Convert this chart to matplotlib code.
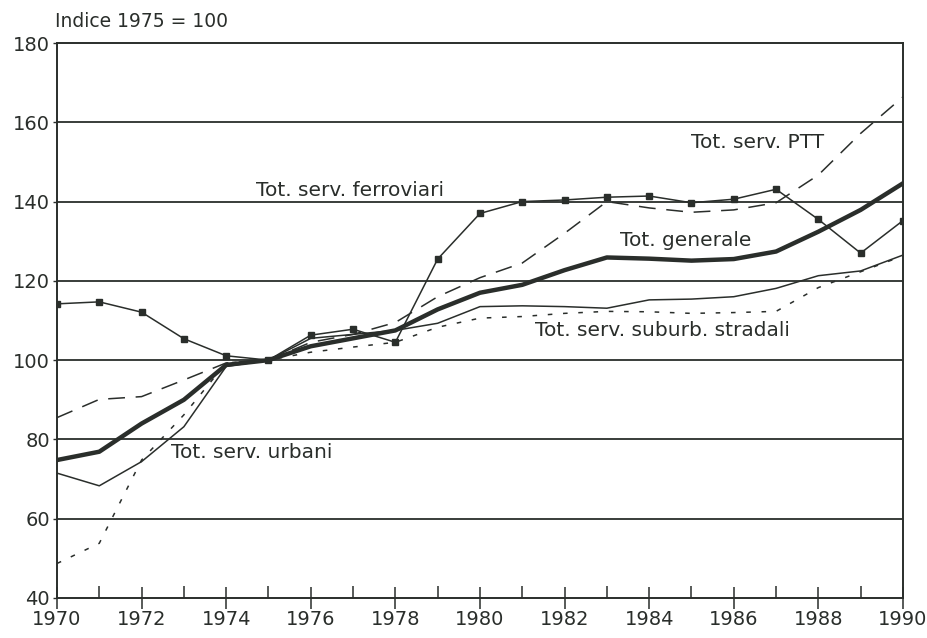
import numpy as np
import matplotlib.pyplot as plt
from matplotlib.ticker import MultipleLocator

years = list(range(1970, 1991))

# Indice 1975 = 100
generale = [74.8, 76.9, 84.0, 90.0, 98.8, 100.0, 103.5, 105.5, 107.5, 112.8, 117.0,
            119.0, 122.7, 125.9, 125.6, 125.1, 125.5, 127.4, 132.4, 137.9, 144.6]
ferroviari = [114.2, 114.7, 112.1, 105.4, 101.1, 100.0, 106.3, 107.8, 104.5, 125.5, 137.0,
              140.0, 140.4, 141.1, 141.4, 139.7, 140.6, 143.1, 135.5, 127.0, 135.2]
ptt = [85.5, 90.1, 90.8, 95.0, 99.3, 100.0, 104.5, 106.5, 109.5, 116.0, 120.8,
       124.5, 132.0, 140.0, 138.4, 137.3, 137.9, 139.7, 146.7, 157.2, 166.4]
urbani = [71.5, 68.3, 74.4, 83.2, 98.4, 100.0, 105.5, 106.5, 107.5, 109.3, 113.5,
          113.7, 113.5, 113.1, 115.2, 115.4, 116.0, 118.1, 121.3, 122.5, 126.5]
stradali = [48.7, 53.8, 74.8, 86.2, 99.3, 100.0, 102.0, 103.3, 104.5, 108.3, 110.6,
            111.0, 111.8, 112.3, 112.2, 111.8, 112.0, 112.3, 118.3, 122.3, 126.3]

labels = ["Tot. serv. PTT", "Tot. serv. ferroviari", "Tot. generale",
          "Tot. serv. suburb. stradali", "Tot. serv. urbani"]

ink = '#2a2e2b'

fig = plt.figure(figsize=(9.28, 6.38), dpi=100)
ax = fig.add_axes([0.0614, 0.0627, 0.9116, 0.8699])

# gridlines
for v in range(60, 180, 20):
    ax.axhline(v, color=ink, lw=1.3, zorder=1)

ax.plot(years, stradali, color=ink, lw=1.1, dashes=(3, 7), zorder=2)
ax.plot(years, urbani, color=ink, lw=1.1, zorder=3)
ax.plot(years, ptt, color=ink, lw=1.1, dashes=(11, 7), zorder=3)
ax.plot(years, generale, color=ink, lw=3.2, zorder=4)
ax.plot(years, ferroviari, color=ink, lw=1.1, marker='s', ms=4.5, zorder=5)

fs = 14.5
ax.text(1985.0, 155.0, labels[0], fontsize=fs, color=ink, ha='left', va='center')
ax.text(1974.7, 142.9, labels[1], fontsize=fs, color=ink, ha='left', va='center')
ax.text(1983.3, 130.3, labels[2], fontsize=fs, color=ink, ha='left', va='center')
ax.text(1981.3, 107.6, labels[3], fontsize=fs, color=ink, ha='left', va='center')
ax.text(1972.7, 76.8, labels[4], fontsize=fs, color=ink, ha='left', va='center')

ax.set_xlim(1970, 1990)
ax.set_ylim(40, 180)
ax.xaxis.set_major_locator(MultipleLocator(2))
ax.xaxis.set_minor_locator(MultipleLocator(1))
ax.yaxis.set_major_locator(MultipleLocator(20))
ax.tick_params(axis='x', which='major', direction='inout', length=16, width=1.1,
               color=ink, labelsize=14, labelcolor=ink, pad=1)
ax.tick_params(axis='x', which='minor', direction='in', length=9, width=1.1, color=ink)
ax.tick_params(axis='y', which='major', direction='out', length=3, width=1.0,
               color=ink, labelsize=14, labelcolor=ink, pad=2)
for s in ax.spines.values():
    s.set_color(ink)
    s.set_linewidth(1.4)

fig.text(0.059, 0.967, "Indice 1975 = 100", fontsize=13.5, color=ink, ha='left', va='center')

fig.savefig("out.png", dpi=100)
